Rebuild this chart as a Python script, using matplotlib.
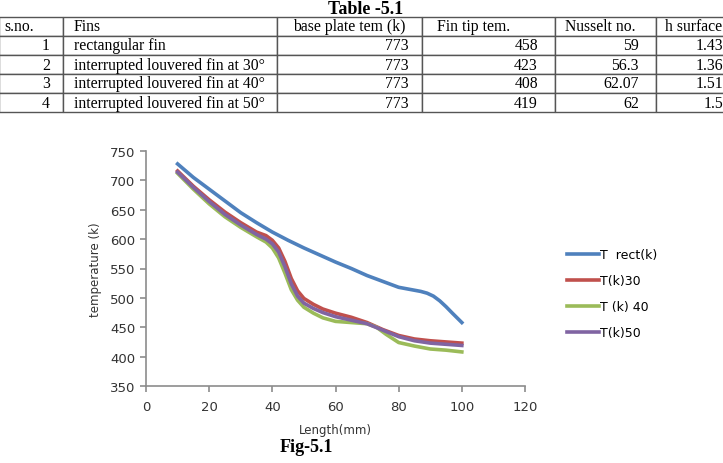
import matplotlib
matplotlib.use('Agg')
import matplotlib.pyplot as plt
from matplotlib.table import Table

# ---- table data ----
col_labels = ['s.no.', 'Fins', 'base plate tem (k)', 'Fin tip tem.', 'Nusselt no.', 'h surface']
sno = ['1', '2', '3', '4']
fins = ['rectangular fin', 'interrupted louvered fin at 30\u00b0',
        'interrupted louvered fin at 40\u00b0', 'interrupted louvered fin at 50\u00b0']
base_temp = ['773', '773', '773', '773']
tip_temp = ['458', '423', '408', '419']
nusselt = ['59', '56.3', '62.07', '62']
h_surface = ['1.43', '1.36', '1.51', '1.5']

# ---- chart data ----
x_rect = [10, 15, 20, 25, 30, 35, 40, 45, 50, 55, 60, 65, 70, 75, 80, 84, 87, 89, 91, 93, 95, 97, 100]
t_rect = [728, 705, 685, 665, 645, 628, 612, 598, 585, 573, 561, 550, 538, 528, 518, 514, 511, 508, 503, 495, 485, 474, 458]

x_30 = [10, 15, 20, 25, 30, 35, 38, 40, 42, 44, 46, 48, 50, 53, 56, 60, 65, 70, 75, 80, 85, 90, 95, 100]
t_30 = [716, 690, 667, 646, 628, 612, 606, 598, 585, 562, 533, 512, 499, 489, 481, 474, 467, 458, 446, 436, 430, 427, 425, 423]

x_40 = [10, 15, 20, 25, 30, 35, 38, 40, 42, 44, 46, 48, 50, 53, 56, 60, 65, 70, 73, 76, 80, 85, 90, 95, 100]
t_40 = [712, 685, 660, 638, 620, 604, 595, 585, 568, 542, 514, 496, 484, 474, 466, 460, 458, 456, 450, 438, 424, 418, 413, 411, 408]

x_50 = [10, 15, 20, 25, 30, 35, 38, 40, 42, 44, 46, 48, 50, 53, 56, 60, 65, 70, 75, 80, 85, 90, 95, 100]
t_50 = [714, 688, 664, 642, 624, 608, 600, 592, 578, 553, 524, 503, 491, 482, 475, 468, 462, 456, 445, 434, 427, 423, 421, 419]

W, H = 723, 464
fig = plt.figure(figsize=(W / 100, H / 100), dpi=100)

# ---- table ----
tax = fig.add_axes([0, 0, 1, 1])
tax.set_axis_off()
tax.text(0.505, 1 - 9 / H, 'Table -5.1', ha='center', va='center', fontsize=13,
         fontweight='bold', family='Liberation Serif', transform=tax.transAxes)

col_px = [64, 214, 145, 133, 101, 75]
left_pad = [5, 11, 16, 15, 10, 9]
right_pad = [13, 10, 13, 17, 17, 8]
rows = list(zip(sno, fins, base_temp, tip_temp, nusselt, h_surface))
tb = Table(tax, bbox=[-1 / W, 1 - 113 / H, sum(col_px) / W, 95 / H])
rh = 1 / (len(rows) + 1)
for c, lab in enumerate(col_labels):
    cell = tb.add_cell(0, c, col_px[c], rh, text=lab, loc='left', edgecolor='#555555')
    cell.PAD = left_pad[c] / col_px[c]
for r, vals in enumerate(rows, start=1):
    for c, v in enumerate(vals):
        if c == 1:
            cell = tb.add_cell(r, c, col_px[c], rh, text=v, loc='left', edgecolor='#555555')
            cell.PAD = left_pad[c] / col_px[c]
        else:
            cell = tb.add_cell(r, c, col_px[c], rh, text=v, loc='right', edgecolor='#555555')
            cell.PAD = right_pad[c] / col_px[c]
tb.auto_set_font_size(False)
tb.set_fontsize(11.3)
for cell in tb.get_celld().values():
    cell.get_text().set_fontfamily('Liberation Serif')
    cell.set_linewidth(1.0)
tax.add_table(tb)

# ---- chart ----
ax = fig.add_axes([146 / W, 1 - 387 / H, 379 / W, 235 / H])
ax.plot(x_rect, t_rect, color='#4F81BD', lw=2.6, label='T  rect(k)')
ax.plot(x_30, t_30, color='#C0504D', lw=2.6, label='T(k)30')
ax.plot(x_40, t_40, color='#9BBB59', lw=2.6, label='T (k) 40')
ax.plot(x_50, t_50, color='#8064A2', lw=2.6, label='T(k)50')

ax.set_xlim(0, 120)
ax.set_ylim(350, 750)
ax.set_xticks(range(0, 121, 20))
ax.set_yticks(range(350, 751, 50))
for s in ['top', 'right']:
    ax.spines[s].set_visible(False)
for s in ['left', 'bottom']:
    ax.spines[s].set_color('#8c8c8c')
    ax.spines[s].set_linewidth(1.2)
ax.tick_params(direction='out', length=4, width=1.2, color='#8c8c8c',
               labelsize=9.5, labelcolor='#333333')
ax.tick_params(axis='x', pad=6)
ax.set_xlabel('Length(mm)', fontsize=8.5, color='#333333', labelpad=7)
ax.set_ylabel('temperature (k)', fontsize=8.5, color='#333333', labelpad=6)

ax.legend(loc='upper left', bbox_to_anchor=(1.08, 0.635), frameon=False,
          fontsize=9, handlelength=2.6, handletextpad=0.1, labelspacing=1.05)

fig.text(306 / W, 1 - 448 / H, 'Fig-5.1', ha='center', va='center', fontsize=13,
         fontweight='bold', family='Liberation Serif')

fig.savefig('out.png', dpi=100)
